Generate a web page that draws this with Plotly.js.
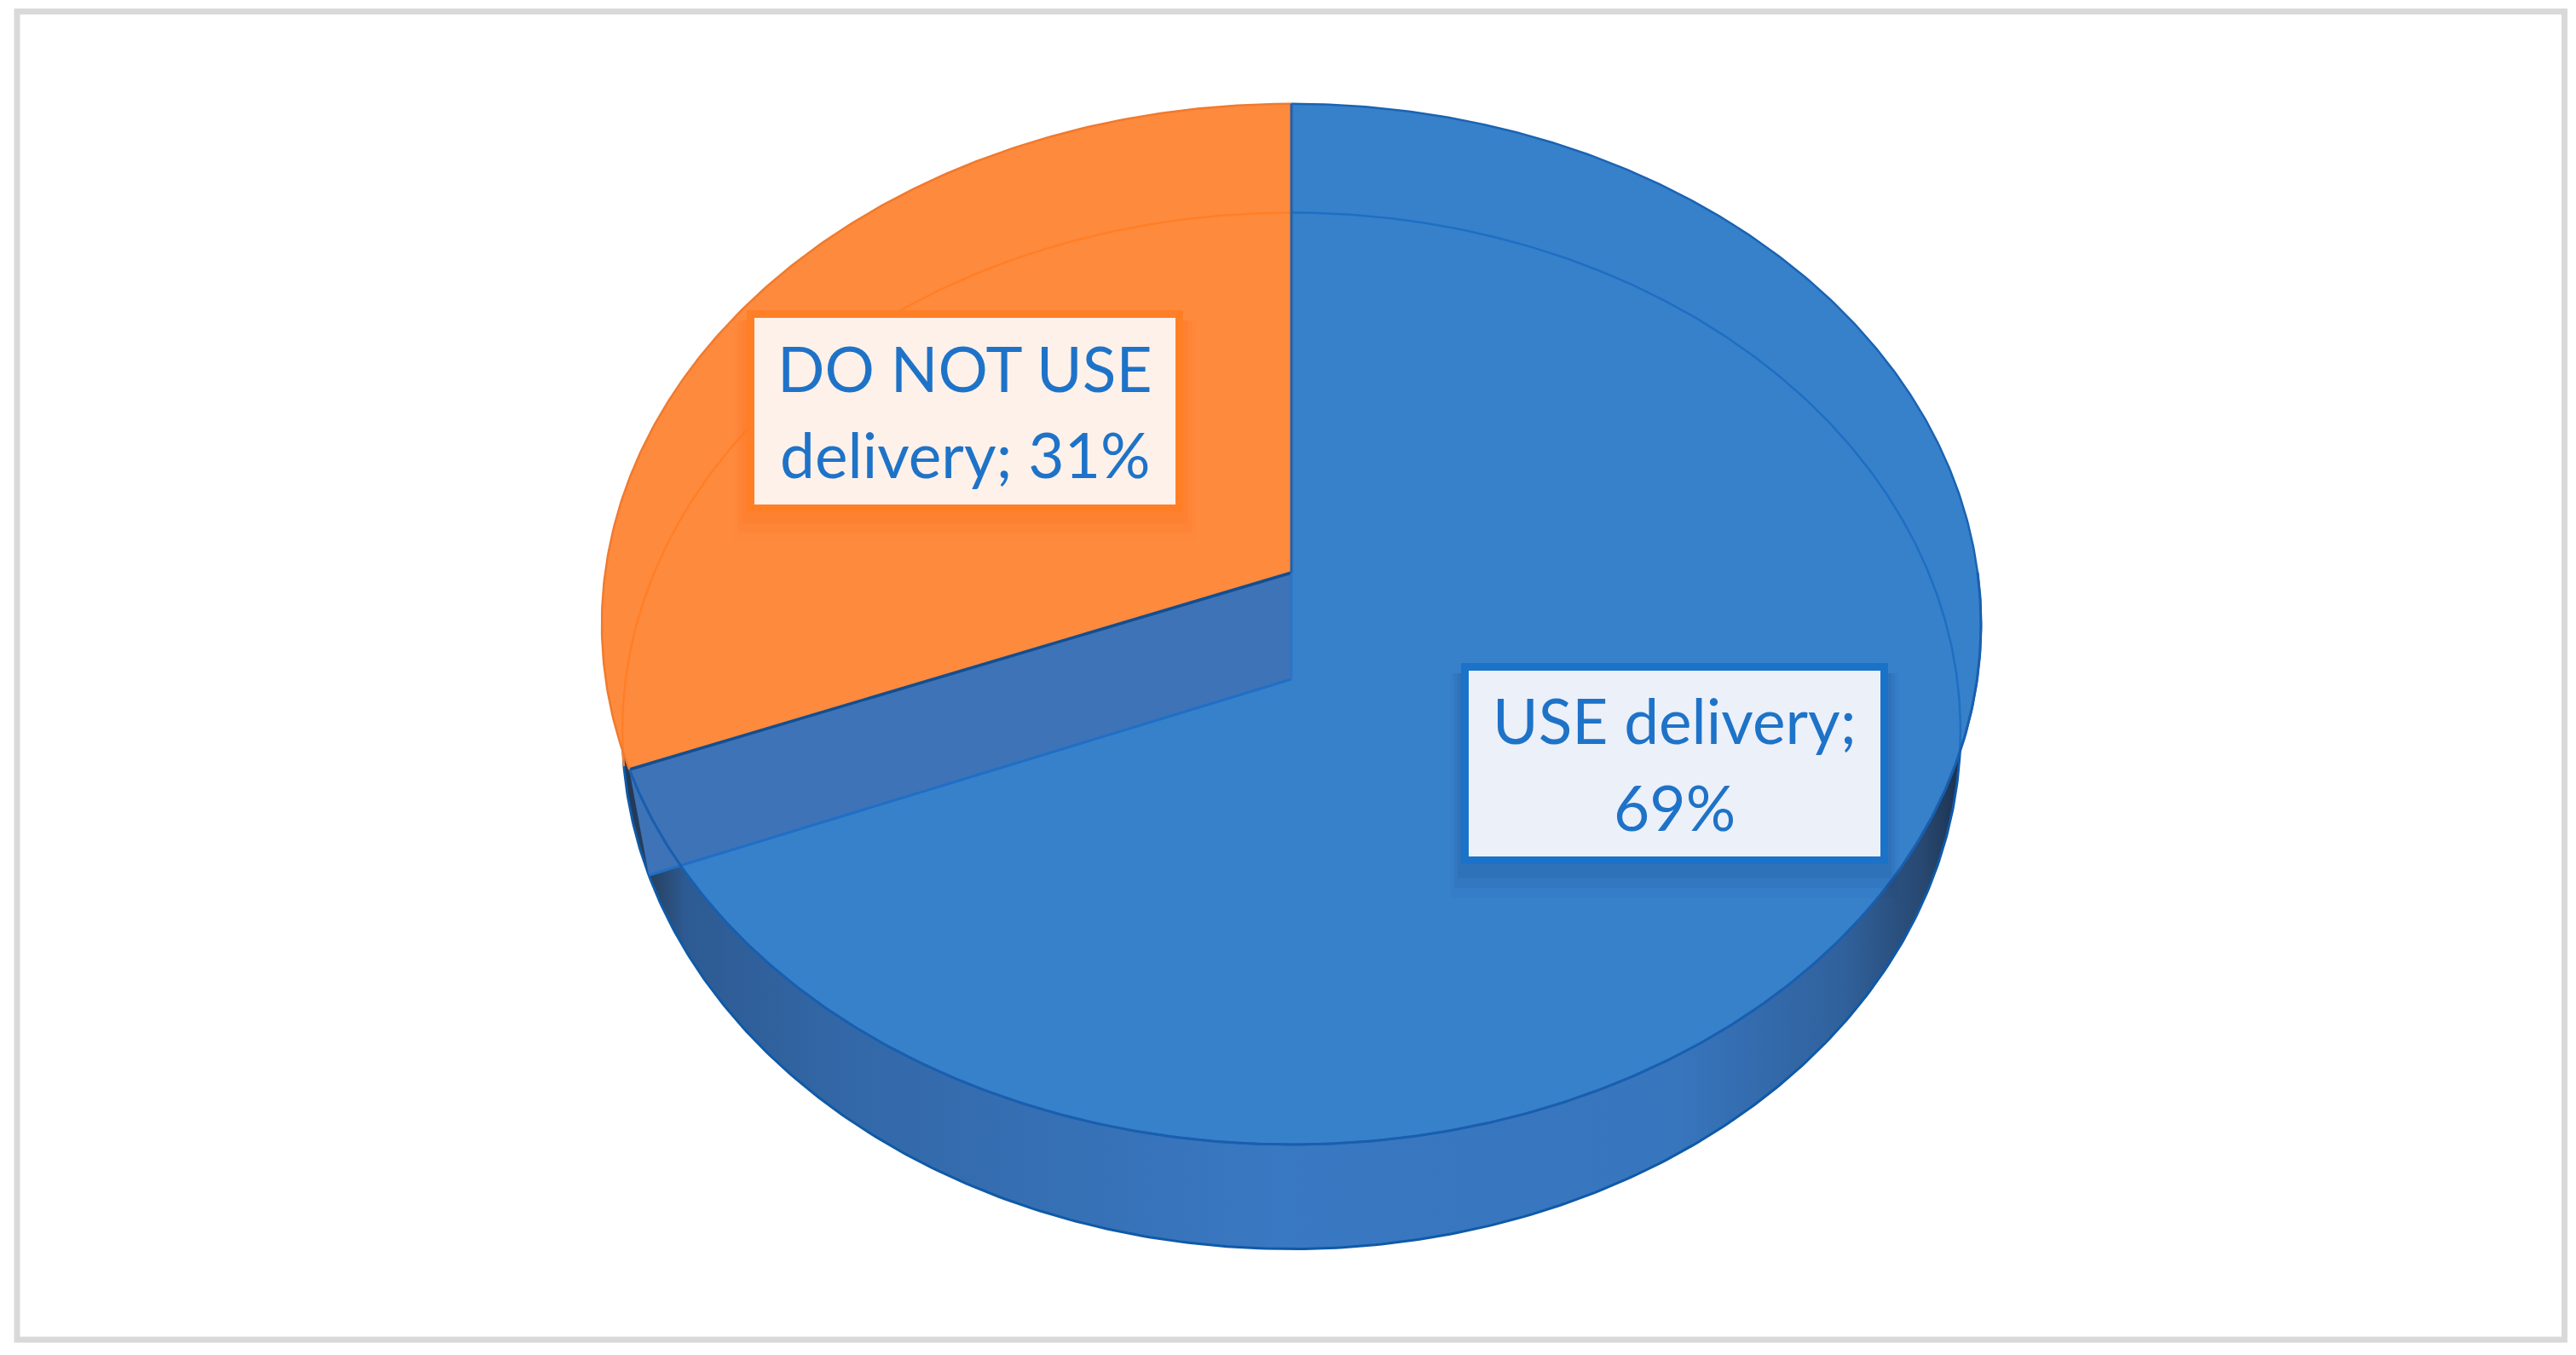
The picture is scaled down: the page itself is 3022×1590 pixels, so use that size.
<!DOCTYPE html>
<html>
<head>
<meta charset="utf-8">
<script src="https://cdn.plot.ly/plotly-3.0.1.min.js"></script>
<style>
  html, body { margin: 0; padding: 0; background: #ffffff; }
  #chart { width: 3022px; height: 1590px; }
</style>
</head>
<body>
<div id="chart"></div>
<script>
// ---------------- DATA ----------------
const categories = ['USE delivery', 'DO NOT USE delivery'];
const shares = [69, 31];                 // percent
const labelBreakAfterWord = [2, 3];      // where each label wraps onto its second line

// ---------------- STYLE / LAYOUT PARAMETERS ----------------
const W = 3022, H = 1590;
const topColors = ['#3781CB', '#FE8A3E'];
const topEdge = ['#1B63B3', '#F07A2E'];
const ringEdge = ['#1E6FC2', '#FF7F27'];
const boxFill = ['#ECF0F9', '#FDF1EA'];
const boxLine = ['#1A73C8', '#FF7F27'];
const textColor = '#1E73C8';
// projected discs (top face and bottom face of the 3-D pie)
const TOP = {cx: 1515, cy: 672, a: 805, b: 604.6, k: 0.099};
const BOT = {cx: 1515, cy: 797, a: 781, b: 602, k: 0.0995};
// label boxes (outer border extents) : [x0, x1, y0, y1]
const boxes = [[1714, 2215, 778, 1014], [876, 1388, 364, 601]];
const lineCenters = [[845, 947], [432, 533]];

// ---------------- GEOMETRY ----------------
function proj(f, deg) {
  const t = deg * Math.PI / 180, x = Math.cos(t), z = Math.sin(t), w = 1 + f.k * z;
  return [f.cx + f.a * x / w, f.cy - f.b * z / w];
}
function arc(f, d0, d1) {
  const n = Math.max(8, Math.ceil(Math.abs(d1 - d0) * 2));
  const xs = [], ys = [];
  for (let i = 0; i <= n; i++) {
    const p = proj(f, d0 + (d1 - d0) * i / n);
    xs.push(p[0]); ys.push(p[1]);
  }
  return [xs, ys];
}
// slice angles: Excel starts at 12 o'clock and runs clockwise
const total = shares.reduce((s, v) => s + v, 0);
const angles = [];
let cum = 0;
shares.forEach(v => {
  const a0 = 90 - 360 * cum / total;
  cum += v;
  const a1 = 90 - 360 * cum / total;
  angles.push([a0, a1]);
});

const traces = [];
function poly(xs, ys, color) {
  traces.push({type: 'scatter', mode: 'lines', x: xs, y: ys, fill: 'toself',
    fillcolor: color, line: {width: 0, color: color}, hoverinfo: 'skip', showlegend: false});
}
function line(xs, ys, color, width) {
  traces.push({type: 'scatter', mode: 'lines', x: xs, y: ys, line: {color: color, width: width},
    hoverinfo: 'skip', showlegend: false});
}

// 1. side wall (front half of the cylinder)
{
  const t = arc(TOP, -180, 0), b = arc(BOT, 0, -180);
  const xs = t[0].concat(b[0]), ys = t[1].concat(b[1]);
  traces.push({type: 'scatter', mode: 'lines', x: xs, y: ys, fill: 'toself',
    fillgradient: {type: 'horizontal', colorscale: [
      [0, '#1F2F48'], [0.035, '#26405f'], [0.06, '#2d5a92'], [0.18, '#3368a8'],
      [0.49, '#3978c2'], [0.78, '#3775bd'], [0.9, '#30619c'], [0.96, '#27476f'], [1, '#15253a']]},
    line: {width: 0, color: '#2d5a92'}, hoverinfo: 'skip', showlegend: false});
  const bb = arc(BOT, -185, 5);
  line(bb[0], bb[1], '#0F5AA8', 3);
}

// 2. top faces of the slices
angles.forEach((a, i) => {
  const r = arc(TOP, a[0], a[1]);
  poly([TOP.cx].concat(r[0], [TOP.cx]), [TOP.cy].concat(r[1], [TOP.cy]), topColors[i]);
});

// 3. radial cut face of the first slice at its end angle (seen through the transparent top)
{
  const endA = angles[0][1];
  const pt = proj(TOP, endA), pb = proj(BOT, endA);
  poly([TOP.cx, pt[0], pb[0], BOT.cx, TOP.cx], [TOP.cy, pt[1], pb[1], BOT.cy, TOP.cy], '#3E73B8');
  line([TOP.cx, pt[0]], [TOP.cy, pt[1]], '#134F90', 3.5);
  line([BOT.cx, pb[0]], [BOT.cy, pb[1]], '#1F6FC6', 3);
}

// 4. back rim of the bottom face, visible through the top
{
  const startA = angles[0][0];
  const ro = arc(BOT, startA, Math.min(190, angles[1][0] + 360 - 12));
  line(ro[0], ro[1], ringEdge[1], 2.5);
  const rb = arc(BOT, -8, startA);
  line(rb[0], rb[1], ringEdge[0], 2.5);
}

// 5. outlines of the top faces
angles.forEach((a, i) => {
  const r = arc(TOP, a[0], a[1]);
  line(r[0], r[1], topEdge[i], 2.5);
});
{
  const fe = arc(TOP, angles[0][1], 0);
  line(fe[0], fe[1], '#1A5FAE', 3);
  const top = proj(TOP, angles[0][0]);
  line([top[0], TOP.cx], [top[1], TOP.cy], '#2262A8', 3);
  line([TOP.cx, BOT.cx], [TOP.cy, BOT.cy], '#2A74C8', 2.5);
}

// ---------------- LABELS ----------------
const shapes = [];
const annotations = [];
// outer frame
shapes.push({type: 'rect', xref: 'x', yref: 'y', x0: 20, x1: 3008.5, y0: 13.5, y1: 1572,
  line: {color: '#D9D9D9', width: 7}, fillcolor: 'rgba(0,0,0,0)', layer: 'below'});

categories.forEach((cat, i) => {
  const b = boxes[i];
  // soft glow / shadow, mostly below the box
  const glow = i === 1 ? 'rgba(255,112,20,' : 'rgba(15,45,100,';
  const steps = i === 1 ? [[16, 34, 0.08], [11, 24, 0.10], [6, 14, 0.13]] : [[12, 40, 0.045], [8, 28, 0.06], [4, 16, 0.08]];
  steps.forEach(g => {
    shapes.push({type: 'rect', xref: 'x', yref: 'y', x0: b[0] - g[0], x1: b[1] + g[0],
      y0: b[2] + 12, y1: b[3] + g[1], line: {width: 0},
      fillcolor: glow + g[2] + ')', layer: 'above'});
  });
  shapes.push({type: 'rect', xref: 'x', yref: 'y', x0: b[0] + 4.5, x1: b[1] - 4.5, y0: b[2] + 4.5, y1: b[3] - 4.5,
    line: {color: boxLine[i], width: 9}, fillcolor: boxFill[i], layer: 'above'});

  const words = (cat + '; ' + shares[i] + '%').split(' ');
  const lines = [words.slice(0, labelBreakAfterWord[i]).join(' '), words.slice(labelBreakAfterWord[i]).join(' ')];
  lines.forEach((txt, j) => {
    annotations.push({x: (b[0] + b[1]) / 2, y: lineCenters[i][j], xref: 'x', yref: 'y', text: txt,
      showarrow: false, xanchor: 'center', yanchor: 'middle',
      font: {family: 'Lato, "Open Sans", sans-serif', size: 73, color: textColor}});
  });
});

const layout = {
  width: W, height: H,
  margin: {l: 0, r: 0, t: 0, b: 0, pad: 0},
  paper_bgcolor: '#ffffff', plot_bgcolor: '#ffffff',
  showlegend: false,
  xaxis: {range: [0, W], visible: false, fixedrange: true},
  yaxis: {range: [H, 0], visible: false, fixedrange: true},
  shapes: shapes,
  annotations: annotations
};
Plotly.newPlot('chart', traces, layout, {staticPlot: true, displayModeBar: false});
</script>
</body>
</html>
